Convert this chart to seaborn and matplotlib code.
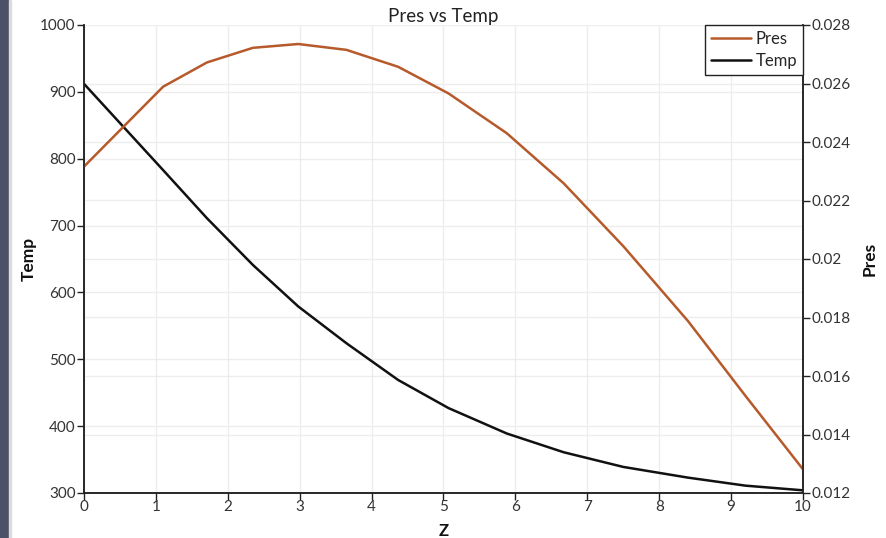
import matplotlib
matplotlib.use("Agg")
import matplotlib.pyplot as plt
from matplotlib.patches import Rectangle
import seaborn as sns
import pandas as pd

# values
z = [0, 1.10, 1.71, 2.35, 2.98, 3.65, 4.37, 5.07, 5.88, 6.67, 7.5, 8.4, 9.2, 10]
temp = [912, 783, 711, 641, 579, 524, 469, 427, 389, 361, 339, 323, 311, 304]
pres = [0.02316, 0.02589, 0.02672, 0.02722, 0.02735, 0.02715, 0.02657,
        0.02566, 0.02430, 0.02259, 0.02044, 0.01788, 0.01532, 0.01281]

x_ticks = list(range(0, 11))
temp_ticks = [300, 400, 500, 600, 700, 800, 900, 1000]
pres_ticks = [0.012, 0.014, 0.016, 0.018, 0.02, 0.022, 0.024, 0.026, 0.028]
pres_labels = ["0.012", "0.014", "0.016", "0.018", "0.02", "0.022", "0.024", "0.026", "0.028"]

df = pd.DataFrame({"Z": z, "Temp": temp, "Pres": pres})

sns.set_theme(style="white")
plt.rcParams["font.family"] = ["Lato", "DejaVu Sans"]

PRES_COLOR = "#b65a2b"
TEMP_COLOR = "#111111"
GRID = "#ededed"
TICK_TXT = "#333333"

fig = plt.figure(figsize=(8.87, 5.38), dpi=100)
fig.patches.append(Rectangle((0, 0), 9 / 887, 1, transform=fig.transFigure,
                             color="#4d5168", zorder=-1))
fig.patches.append(Rectangle((9 / 887, 0), 2 / 887, 1, transform=fig.transFigure,
                             color="#dcdcdc", zorder=-1))

ax = fig.add_axes([84 / 887, 1 - 493 / 538, 719 / 887, 468 / 538])
ax2 = ax.twinx()

ax.set_xlim(0, 10)
ax.set_ylim(300, 1000)
ax2.set_ylim(0.012, 0.028)

# grid lines all live on the lower axes so they stay behind both curves
ax.grid(True, color=GRID, lw=1)
ax.set_axisbelow(True)
t_lo, t_hi = ax.get_ylim()
p_lo, p_hi = ax2.get_ylim()
for p in pres_ticks[1:-1]:
    ax.axhline(t_lo + (p - p_lo) / (p_hi - p_lo) * (t_hi - t_lo), color=GRID, lw=1, zorder=0.5)

sns.lineplot(data=df, x="Z", y="Temp", ax=ax, color=TEMP_COLOR, lw=1.8, label="Temp", legend=False)
sns.lineplot(data=df, x="Z", y="Pres", ax=ax2, color=PRES_COLOR, lw=1.8, label="Pres", legend=False)

ax.set_xlim(0, 10)
ax.set_ylim(300, 1000)
ax2.set_ylim(0.012, 0.028)
ax.set_xticks(x_ticks)
ax.set_yticks(temp_ticks)
ax2.set_yticks(pres_ticks)
ax2.set_yticklabels(pres_labels)
ax2.grid(False)

for a in (ax, ax2):
    a.spines["top"].set_visible(False)
    for s in a.spines.values():
        s.set_color("#222222")
        s.set_linewidth(1.1)
    a.tick_params(colors=TICK_TXT, labelsize=11, length=5, width=1, direction="out", pad=1)
    a.tick_params(axis="both", color="#222222")
ax.tick_params(left=True, bottom=True)
ax2.tick_params(right=True)
ax.tick_params(axis="x", pad=0)

ax.set_xlabel("Z", fontweight="bold", fontsize=12, color="#111111")
ax.xaxis.set_label_coords(0.5, -0.065)
ax.set_ylabel("Temp", fontweight="bold", fontsize=12.5, color="#111111")
ax.yaxis.set_label_coords(-0.066, 0.5)
ax2.set_ylabel("Pres", fontweight="bold", fontsize=12.5, color="#111111")
ax2.yaxis.set_label_coords(1.082, 0.5)
ax.set_title("Pres vs Temp", fontsize=13.5, color="#222222", pad=1)

h1, l1 = ax.get_legend_handles_labels()
h2, l2 = ax2.get_legend_handles_labels()
leg = ax2.legend(h2 + h1, l2 + l1, loc="upper right", borderaxespad=0, fancybox=False,
                 framealpha=1, edgecolor="#222222", fontsize=12, handlelength=2.4,
                 handletextpad=0.3, labelspacing=0.35, borderpad=0.35)
leg.get_frame().set_linewidth(1)

fig.savefig("out.png", dpi=100)
